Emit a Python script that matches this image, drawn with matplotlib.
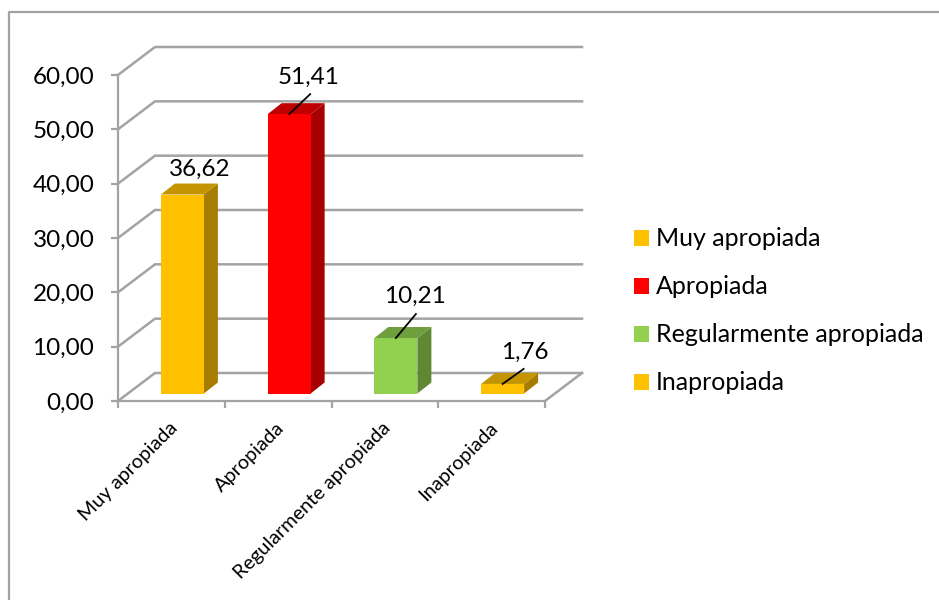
#!/usr/bin/env python3
"""Columnas con falso 3D: valoración de la adecuación (porcentajes)."""
import matplotlib

matplotlib.use("Agg")
import matplotlib.pyplot as plt  # noqa: E402
from matplotlib.patches import Patch, Polygon  # noqa: E402

CATEGORIAS = ["Muy apropiada", "Apropiada", "Regularmente apropiada", "Inapropiada"]
VALORES = [36.62, 51.41, 10.21, 1.76]
ETIQUETAS = ["36,62", "51,41", "10,21", "1,76"]
YTICKS = [0, 10, 20, 30, 40, 50, 60]
YTICK_LABELS = ["0,00", "10,00", "20,00", "30,00", "40,00", "50,00", "60,00"]

C_FRENTE = ["#FFC000", "#FF0000", "#92D050", "#FFC000"]
C_LADO = ["#A67D00", "#A60000", "#5F8734", "#A67D00"]
C_TECHO = ["#C49500", "#C00000", "#6F9E3C", "#C49500"]
GRIS = "#A3A3A3"

W, H = 939, 600
X0, X1, Y0, Y1 = 118, 545, 401, 75  # marco frontal en píxeles
PX_X = (X1 - X0) / 4
PX_Y = (Y0 - Y1) / 60


def dx(px):
    return px / PX_X


def dy(px):
    return px / PX_Y


plt.rcParams["font.family"] = ["Lato", "DejaVu Sans"]
fig = plt.figure(figsize=(W / 100, H / 100), dpi=100)
ax = fig.add_axes([X0 / W, 1 - Y0 / H, (X1 - X0) / W, (Y0 - Y1) / H])
ax.set_xlim(0, 4)
ax.set_ylim(0, 60)
ax.patch.set_visible(False)
for lado in ("top", "right"):
    ax.spines[lado].set_visible(False)
for lado in ("left", "bottom"):
    ax.spines[lado].set_color(GRIS)
    ax.spines[lado].set_linewidth(1.6)

ax.set_xticks(range(5))
ax.set_xticklabels([])
ax.set_yticks(YTICKS)
ax.set_yticklabels(YTICK_LABELS, fontsize=17.5, color="black")
ax.tick_params(axis="both", color=GRIS, width=1.6, length=5)
ax.tick_params(axis="y", pad=12)

# paredes: rejilla de fondo y oblicuas
PROF_X, PROF_Y = dx(37), dy(28)
for v in YTICKS:
    ax.plot([0, PROF_X, 4 + PROF_X], [v, v + PROF_Y, v + PROF_Y], color=GRIS, lw=1.8,
            clip_on=False, zorder=1, solid_joinstyle="miter")
ax.plot([4, 4 + PROF_X], [0, PROF_Y], color=GRIS, lw=1.8, clip_on=False, zorder=1)

# columnas
DESP_X, DESP_Y = dx(11), dy(7.5)
ANCHO = dx(43)
BX, BY = dx(14), dy(11)
LIDER = [None, (21, -20), (20, -24), (21, -15)]
TEXTO = [(17, -25), (19, -37), (19, -42), (22, -32)]
for i, v in enumerate(VALORES):
    x0 = i + 0.5 + DESP_X - ANCHO / 2
    x1 = x0 + ANCHO
    y0 = DESP_Y
    y1 = DESP_Y + v
    ax.add_patch(Polygon([(x1, y0), (x1 + BX, y0 + BY), (x1 + BX, y1 + BY), (x1, y1)],
                         fc=C_LADO[i], ec="none", clip_on=False, zorder=3))
    ax.add_patch(Polygon([(x0, y1), (x1, y1), (x1 + BX, y1 + BY), (x0 + BX, y1 + BY)],
                         fc=C_TECHO[i], ec="none", clip_on=False, zorder=3))
    ax.add_patch(Polygon([(x0, y0), (x1, y0), (x1, y1), (x0, y1)],
                         fc=C_FRENTE[i], ec="none", clip_on=False, zorder=4))
    cx = (x0 + x1) / 2
    if LIDER[i]:
        ax.plot([cx, cx + dx(LIDER[i][0])], [y1, y1 - dy(LIDER[i][1])], color="black",
                lw=1.3, clip_on=False, zorder=6)
    ax.text(cx + dx(TEXTO[i][0]), y1 - dy(TEXTO[i][1]), ETIQUETAS[i], fontsize=17.5,
            ha="center", va="center", zorder=7, clip_on=False)

# etiquetas de categoría giradas
for i, c in enumerate(CATEGORIAS):
    ax.annotate(c, xy=(i + 0.5, 0), xytext=(3, -24), textcoords="offset pixels",
                rotation=45, ha="right", va="center", rotation_mode="anchor",
                fontsize=14.3, annotation_clip=False)

handles = [Patch(fc=c, ec="none") for c in C_FRENTE]
fig.legend(handles, CATEGORIAS, loc="center left", bbox_to_anchor=(634 / W, 1 - 311 / H),
           frameon=False, fontsize=18, handlelength=0.6, handleheight=0.6,
           handletextpad=0.26, labelspacing=1.0, borderpad=0, borderaxespad=0)

# marco exterior del gráfico
marco = dict(color=GRIS, lw=1.6, transform=fig.transFigure, clip_on=False)
fig.add_artist(plt.Line2D([9 / W, 9 / W, 1], [0, 1 - 12 / H, 1 - 12 / H], **marco))

fig.savefig("out.png", dpi=100)
